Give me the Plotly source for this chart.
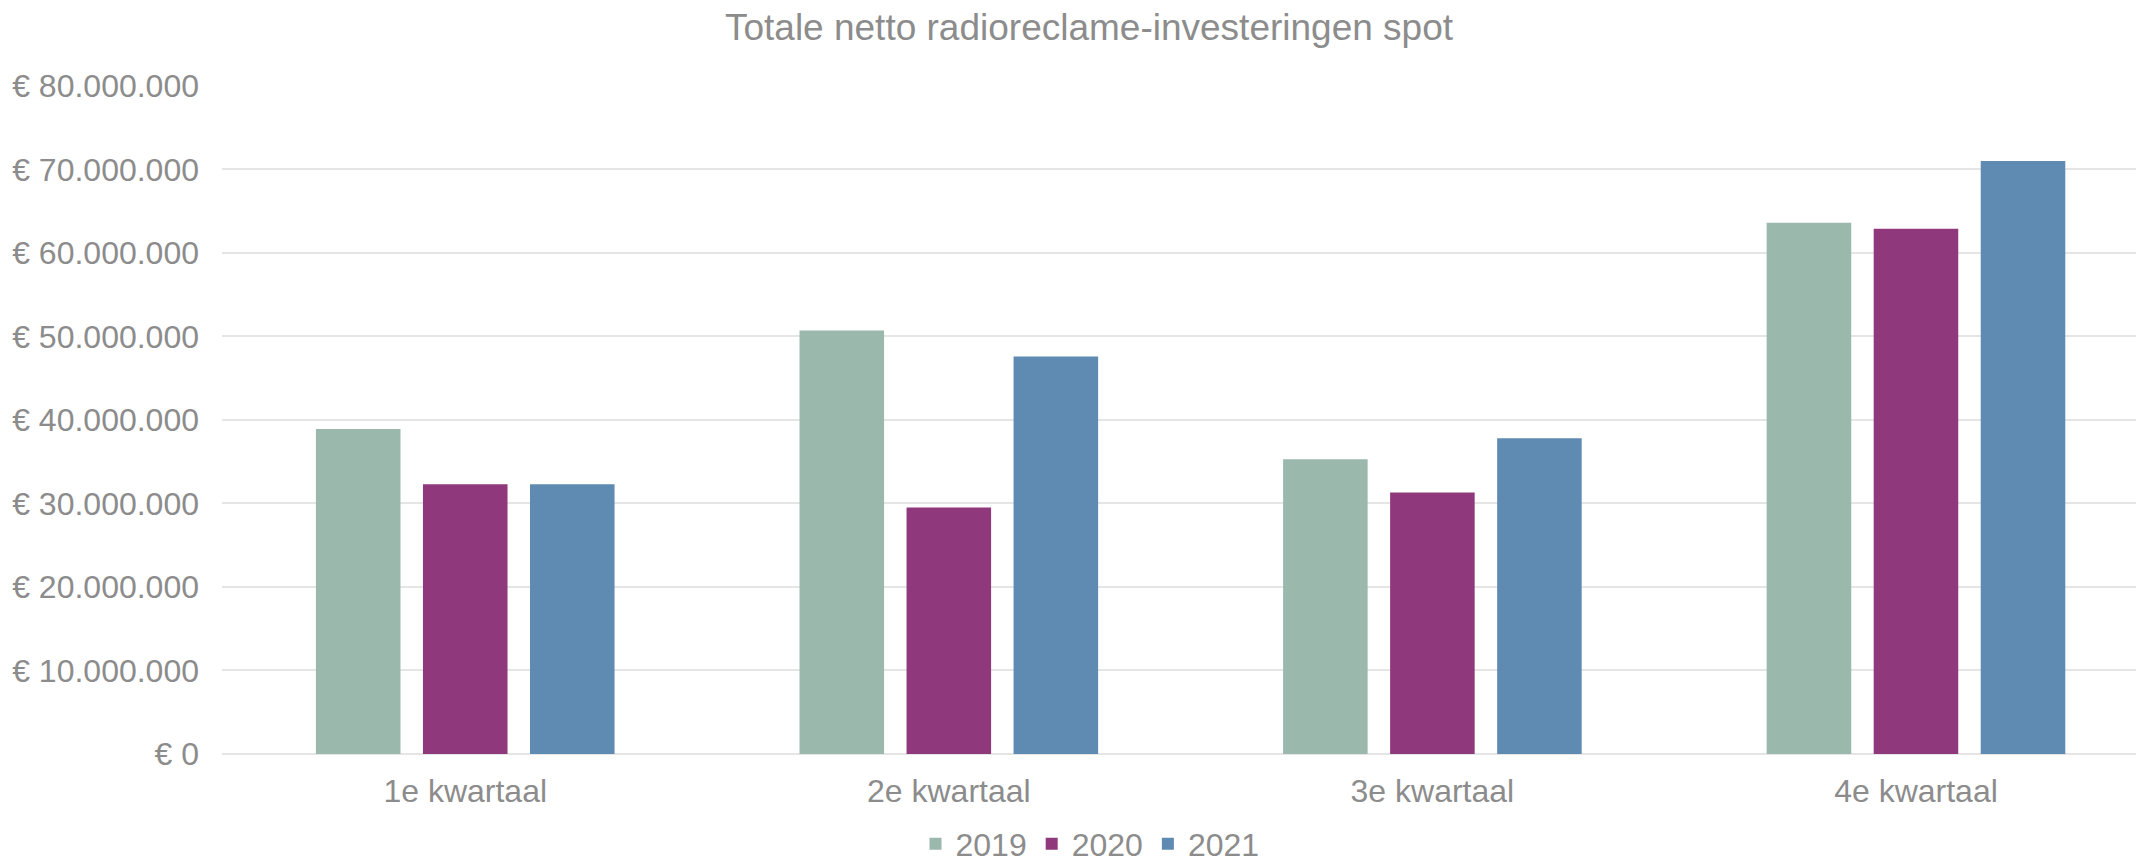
import plotly.graph_objects as go

categories = ["1e kwartaal", "2e kwartaal", "3e kwartaal", "4e kwartaal"]
years = ["2019", "2020", "2021"]
values_2019 = [38_900_000, 50_700_000, 35_300_000, 63_600_000]
values_2020 = [32_300_000, 29_500_000, 31_300_000, 62_900_000]
values_2021 = [32_300_000, 47_600_000, 37_800_000, 71_000_000]
colors = ["#9AB8AC", "#8F397C", "#5F8BB2"]
y_ticks = [0, 10_000_000, 20_000_000, 30_000_000, 40_000_000,
           50_000_000, 60_000_000, 70_000_000, 80_000_000]
y_tick_labels = ["€ " + f"{v:,}".replace(",", ".") for v in y_ticks]

series = [values_2019, values_2020, values_2021]

fig = go.Figure()
for name, vals, col in zip(years, series, colors):
    fig.add_trace(go.Bar(x=categories, y=vals, name=name,
                         marker=dict(color=col, line=dict(width=0))))

gray = "#8C8C8C"
grid = "#E5E5E5"
fig.update_layout(
    width=2139, height=865,
    paper_bgcolor="white", plot_bgcolor="white",
    font=dict(family="Liberation Sans, Arial, sans-serif", color=gray, size=32),
    barmode="group", bargap=0.336, bargroupgap=0.21,
    margin=dict(l=222, r=3, t=85, b=111, autoexpand=False),
    title=dict(text="Totale netto radioreclame-investeringen spot",
               font=dict(size=37, color=gray),
               x=1089 / 2139, xanchor="center", xref="container",
               y=1 - 27 / 865, yanchor="middle", yref="container"),
    showlegend=True,
    legend=dict(orientation="h", x=1090 / 2139, xanchor="center", xref="container",
                y=1 - 844 / 865, yanchor="middle", yref="container",
                font=dict(size=32, color=gray), traceorder="normal"),
    xaxis=dict(showgrid=False, showline=False, ticks="", automargin=False,
               range=[-0.503, 3.455],
               ticklabelstandoff=15, tickfont=dict(size=32, color=gray)),
    yaxis=dict(range=[0, 80_100_000], tickmode="array", tickvals=y_ticks, ticktext=y_tick_labels,
               automargin=False,
               showgrid=True, gridcolor=grid, gridwidth=2, zeroline=True, zerolinecolor=grid,
               zerolinewidth=2, showline=False, ticklabelstandoff=22,
               tickfont=dict(size=32, color=gray)),
)

fig.write_html("out.html", config={"displayModeBar": False},
               post_script="document.body.style.margin='0';document.body.style.overflow='hidden';")
